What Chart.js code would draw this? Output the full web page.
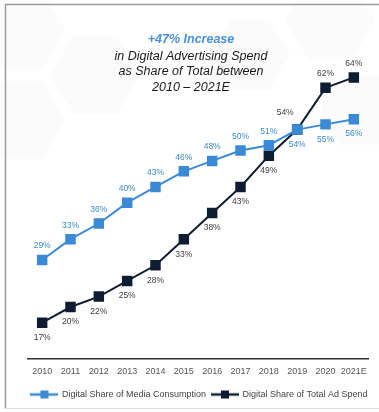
<!DOCTYPE html>
<html>
<head>
<meta charset="utf-8">
<script src="https://cdn.jsdelivr.net/npm/chart.js@4"></script>
<style>
  body { margin: 0; background: #fff; }
  #wrap { position: relative; width: 379px; height: 412px; }
</style>
</head>
<body>
<div id="wrap"><canvas id="myChart"></canvas></div>
<script>
const years = ['2010', '2011', '2012', '2013', '2014', '2015', '2016', '2017', '2018', '2019', '2020', '2021E'];
const mediaShare = [29, 33, 36, 40, 43, 46, 48, 50, 51, 54, 55, 56];
const adSpendShare = [17, 20, 22, 25, 28, 33, 38, 43, 49, 54, 62, 64];
const seriesNames = ['Digital Share of Media Consumption', 'Digital Share of Total Ad Spend'];
const titleLines = ['in Digital Advertising Spend', 'as Share of Total between', '2010 \u2013 2021E'];

const FONT = "'Liberation Sans', Arial, sans-serif";
const LIGHT = '#3a8ad6';
const DARK = '#0f1d33';

// little line + square swatch for the legend
const makeSwatch = (color) => {
    const c = document.createElement('canvas');
    c.width = 28;
    c.height = 10;
    const ctx = c.getContext('2d');
    ctx.strokeStyle = color;
    ctx.lineWidth = 2.5;
    ctx.beginPath();
    ctx.moveTo(0, 5);
    ctx.lineTo(28, 5);
    ctx.stroke();
    ctx.fillStyle = color;
    ctx.fillRect(10, 1, 8, 8);
    return c;
}
const swatches = [makeSwatch(LIGHT), makeSwatch(DARK)];

// white card with faint hexagons and a grey frame
const background = {
    id: 'background',
    beforeDraw(chart) {
        const ctx = chart.ctx;
        ctx.save();
        ctx.fillStyle = '#fff';
        ctx.fillRect(0, 0, chart.width, chart.height);
        const hex = (cx, cy, r) => {
            ctx.beginPath();
            for (let i = 0; i < 6; i++) {
                const a = Math.PI / 3 * i;
                ctx.lineTo(cx + r * Math.cos(a), cy + r * Math.sin(a));
            }
            ctx.closePath();
            ctx.fill();
        }
        ctx.fillStyle = 'rgba(0,0,0,0.014)';
        hex(20, 30, 45);
        hex(95, 75, 45);
        hex(20, 120, 45);
        hex(330, 20, 45);
        hex(250, 55, 40);
        hex(360, 110, 40);
        ctx.strokeStyle = '#9a9a9a';
        ctx.lineWidth = 1.5;
        ctx.beginPath();
        ctx.moveTo(379, 4.5);
        ctx.lineTo(5.5, 4.5);
        ctx.lineTo(5.5, 409);
        ctx.stroke();
        ctx.strokeStyle = '#d7dfe8';
        ctx.lineWidth = 1;
        ctx.beginPath();
        ctx.moveTo(5, 408.5);
        ctx.lineTo(379, 408.5);
        ctx.stroke();
        ctx.restore();
    }
}

// heading text over the upper left of the plot
const heading = {
    id: 'heading',
    afterDraw(chart) {
        const ctx = chart.ctx;
        ctx.save();
        ctx.textAlign = 'center';
        ctx.textBaseline = 'middle';
        ctx.fillStyle = '#4a90da';
        ctx.font = `italic bold 12.5px ${FONT}`;
        ctx.fillText('+47% Increase', 191, 40);
        ctx.fillStyle = '#1a1a1a';
        ctx.font = `italic 12.5px ${FONT}`;
        titleLines.forEach((t, i) => ctx.fillText(t, 191, 56.5 + i * 15.5));
        ctx.restore();
    }
}

// percent labels next to each point
const valueLabels = {
    id: 'valueLabels',
    afterDatasetsDraw(chart) {
        const ctx = chart.ctx;
        ctx.save();
        ctx.font = `8.5px ${FONT}`;
        ctx.textAlign = 'center';
        ctx.textBaseline = 'middle';
        chart.data.datasets.forEach((ds, d) => {
            chart.getDatasetMeta(d).data.forEach((pt, i) => {
                let dx = 0, dy;
                if (d === 0) {
                    ctx.fillStyle = '#3a8ad0';
                    dy = i < 9 ? -14 : 15;
                } else {
                    ctx.fillStyle = '#3c3c3c';
                    if (i < 9) dy = 15;
                    else if (i === 9) { dx = -12; dy = -17; }
                    else dy = -14;
                }
                ctx.fillText(ds.data[i] + '%', pt.x + dx, pt.y + dy);
            });
        });
        ctx.restore();
    }
}

const lineData = {
    labels: years,
    datasets: [{
            label: seriesNames[0],
            data: mediaShare,
            borderColor: LIGHT,
            backgroundColor: LIGHT,
            borderWidth: 2,
            pointStyle: 'rect',
            pointRadius: 6,
            pointHoverRadius: 6,
        },
        {
            label: seriesNames[1],
            data: adSpendShare,
            borderColor: DARK,
            backgroundColor: DARK,
            borderWidth: 2,
            pointStyle: 'rect',
            pointRadius: 6,
            pointHoverRadius: 6,
        }
    ]
};

// invisible axis that only reserves some width
const spacer = (pos, w) => ({
    position: pos,
    display: true,
    min: 10,
    max: 75,
    grid: { display: false },
    border: { display: false },
    ticks: { display: false },
    afterFit: (scale) => { scale.width = w; }
});

const config = {
    type: 'line',
    data: lineData,
    options: {
        responsive: true,
        maintainAspectRatio: false,
        animation: false,
        layout: {
            padding: { top: 20, left: 20, right: 0, bottom: 3 }
        },
        scales: {
            x: {
                offset: true,
                grid: { display: false, drawTicks: false },
                border: { display: true, color: '#333', width: 1.5 },
                ticks: { color: '#555', font: { family: FONT, size: 9 }, padding: 7, maxRotation: 0, autoSkip: false }
            },
            y: spacer('left', 8),
            y2: spacer('right', 11)
        },
        plugins: {
            tooltip: { enabled: false },
            legend: {
                position: 'bottom',
                labels: {
                    usePointStyle: true,
                    pointStyleWidth: 26,
                    color: '#444',
                    padding: 6,
                    font: { family: FONT, size: 9 },
                    generateLabels: (chart) => {
                        const items = Chart.defaults.plugins.legend.labels.generateLabels(chart);
                        items.forEach((item, i) => { item.pointStyle = swatches[i]; });
                        return items;
                    }
                }
            }
        }
    },
    plugins: [background, heading, valueLabels]
};

const myChart = new Chart(document.getElementById('myChart'), config);
</script>
</body>
</html>
